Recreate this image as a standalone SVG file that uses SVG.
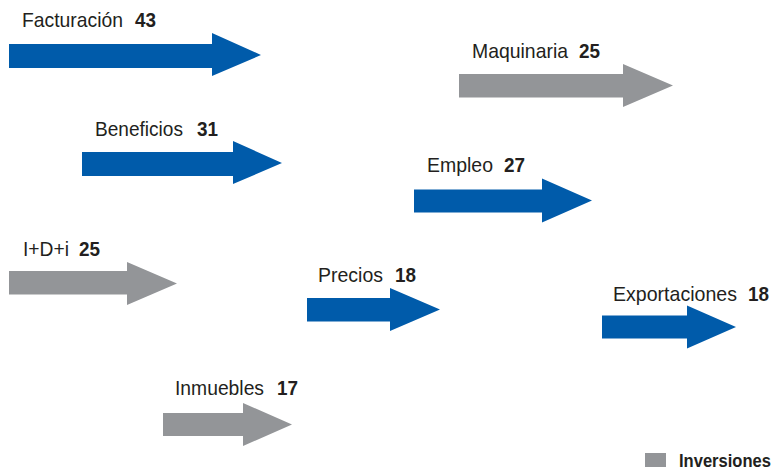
<svg xmlns="http://www.w3.org/2000/svg" width="776" height="472" viewBox="0 0 776 472">
<style>
.blue{fill:#005BAA}
.gray{fill:#939598}
.lbl{font-family:"Liberation Sans",Arial,sans-serif;font-size:21px;fill:#231F20}
.num{font-family:"Liberation Sans",Arial,sans-serif;font-size:21px;font-weight:bold;fill:#231F20}
.leg{font-family:"Liberation Sans",Arial,sans-serif;font-size:17.5px;font-weight:bold;fill:#231F20}
</style>
<rect width="776" height="472" fill="#ffffff"/>
<g id="connectors"></g>
<g id="facturacion">
<polygon class="blue" points="9,44 212,44 212,33 261,55 212,76 212,68 9,68"/>
<text class="lbl" x="22" y="27" textLength="101" lengthAdjust="spacingAndGlyphs">Facturación</text><text class="num" x="135" y="27" textLength="21" lengthAdjust="spacingAndGlyphs">43</text>
</g>
<g id="maquinaria">
<polygon class="gray" points="459,74 623,74 623,64 673,85.5 623,107 623,97.5 459,97.5"/>
<text class="lbl" x="472" y="58" textLength="96" lengthAdjust="spacingAndGlyphs">Maquinaria</text><text class="num" x="579" y="58" textLength="21" lengthAdjust="spacingAndGlyphs">25</text>
</g>
<g id="beneficios">
<polygon class="blue" points="82,152 233,152 233,141 282,163 233,184 233,176 82,176"/>
<text class="lbl" x="95" y="136" textLength="88" lengthAdjust="spacingAndGlyphs">Beneficios</text><text class="num" x="197" y="136" textLength="21" lengthAdjust="spacingAndGlyphs">31</text>
</g>
<g id="empleo">
<polygon class="blue" points="414,189.5 542,189.5 542,178.5 592,200.5 542,222.5 542,212.5 414,212.5"/>
<text class="lbl" x="427" y="171.5" textLength="66" lengthAdjust="spacingAndGlyphs">Empleo</text><text class="num" x="504" y="171.5" textLength="21" lengthAdjust="spacingAndGlyphs">27</text>
</g>
<g id="idi">
<polygon class="gray" points="9,271 127,271 127,262 177,283.5 127,305 127,294.5 9,294.5"/>
<text class="lbl" x="23" y="256" textLength="46" lengthAdjust="spacingAndGlyphs">I+D+i</text><text class="num" x="79" y="256" textLength="21" lengthAdjust="spacingAndGlyphs">25</text>
</g>
<g id="precios">
<polygon class="blue" points="307,298 390,298 390,288 440,309.5 390,331 390,321.5 307,321.5"/>
<text class="lbl" x="318" y="282" textLength="65" lengthAdjust="spacingAndGlyphs">Precios</text><text class="num" x="395" y="282" textLength="21" lengthAdjust="spacingAndGlyphs">18</text>
</g>
<g id="exportaciones">
<polygon class="blue" points="602,315.5 687,315.5 687,305.5 736,327 687,348.5 687,338.5 602,338.5"/>
<text class="lbl" x="613" y="301" textLength="124" lengthAdjust="spacingAndGlyphs">Exportaciones</text><text class="num" x="748" y="301" textLength="21" lengthAdjust="spacingAndGlyphs">18</text>
</g>
<g id="inmuebles">
<polygon class="gray" points="163,413 243,413 243,403 292,424.5 243,446 243,436 163,436"/>
<text class="lbl" x="175" y="395" textLength="89" lengthAdjust="spacingAndGlyphs">Inmuebles</text><text class="num" x="277" y="395" textLength="21" lengthAdjust="spacingAndGlyphs">17</text>
</g>
<g id="legend">
<rect class="gray" x="645" y="453" width="21" height="14"/>
<text class="leg" x="679" y="466.5" textLength="92" lengthAdjust="spacingAndGlyphs">Inversiones</text>
</g>
</svg>
